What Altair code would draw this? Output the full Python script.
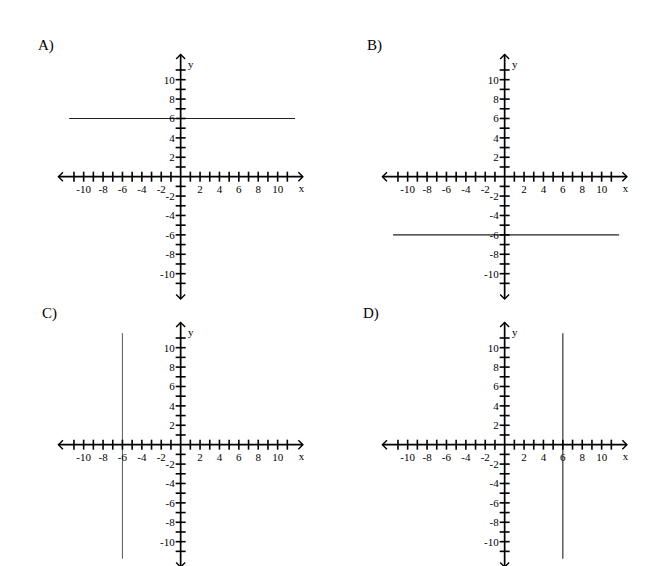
import altair as alt
import pandas as pd

# ---- data ----
PANEL_LABELS = ["A)", "B)", "C)", "D)"]
LINE_ORIENT = ["horizontal", "horizontal", "vertical", "vertical"]
LINE_VALUE = [6, -6, -6, 6]
H_LINE_SPAN = [-11.5, 11.8]      # x extent of the horizontal lines
V_LINE_SPAN = [-11.75, 11.5]     # y extent of the vertical lines
AXIS_SPAN = [-12.6, 12.6]        # arrow tip to arrow tip
TICK_VALUES = [-11, -10, -9, -8, -7, -6, -5, -4, -3, -2, -1,
               1, 2, 3, 4, 5, 6, 7, 8, 9, 10, 11]
LABEL_VALUES = [-10, -8, -6, -4, -2, 2, 4, 6, 8, 10]
LABEL_TEXT = ["-10", "-8", "-6", "-4", "-2", "2", "4", "6", "8", "10"]

# ---- layout / style ----
W, H = 300, 268
X_DOMAIN = [-17.8, 13.13]
Y_DOMAIN = [-10.24, 17.39]
PANEL_LABEL_X = [30, 35, 34, 31]
PANEL_LABEL_Y = 37
LINE_COLORS = ["#222222", "#222222", "#666666", "#222222"]
FONT = "Liberation Serif"
TICK_FONT_SIZE = 11

RIGHT = "M-1,-1L0,0L-1,1"
LEFT = "M1,-1L0,0L1,1"
UP = "M-1,1L0,0L1,1"
DOWN = "M-1,-1L0,0L1,-1"


def panel(i):
    xs = alt.Scale(domain=X_DOMAIN, nice=False, zero=False)
    ys = alt.Scale(domain=Y_DOMAIN, nice=False, zero=False)
    X = alt.X("x:Q", scale=xs, axis=None)
    Y = alt.Y("y:Q", scale=ys, axis=None)

    axes_df = pd.DataFrame({
        "x": [AXIS_SPAN[0], 0], "x2": [AXIS_SPAN[1], 0],
        "y": [0, AXIS_SPAN[0]], "y2": [0, AXIS_SPAN[1]],
    })
    axes = alt.Chart(axes_df).mark_rule(color="black", strokeWidth=1.7).encode(
        x=X, x2="x2:Q", y=Y, y2="y2:Q")

    xt = alt.Chart(pd.DataFrame({"x": TICK_VALUES, "y": [0] * len(TICK_VALUES)})).mark_tick(
        orient="vertical", size=10, thickness=1.6, color="black", opacity=1).encode(x=X, y=Y)
    yt = alt.Chart(pd.DataFrame({"x": [0] * len(TICK_VALUES), "y": TICK_VALUES})).mark_tick(
        orient="horizontal", size=10, thickness=1.6, color="black", opacity=1).encode(x=X, y=Y)

    arrows_df = pd.DataFrame({
        "x": [AXIS_SPAN[1], AXIS_SPAN[0], 0, 0],
        "y": [0, 0, AXIS_SPAN[1], AXIS_SPAN[0]],
        "shape": [RIGHT, LEFT, UP, DOWN],
    })
    arrows = alt.Chart(arrows_df).mark_point(
        filled=False, stroke="black", strokeWidth=1.4, size=81, opacity=1).encode(
        x=X, y=Y, shape=alt.Shape("shape:N", scale=None))

    xl = alt.Chart(pd.DataFrame({"x": LABEL_VALUES, "y": [0] * len(LABEL_VALUES), "t": LABEL_TEXT})).mark_text(
        dy=13, align="center", baseline="middle", font=FONT, fontSize=TICK_FONT_SIZE, color="black").encode(
        x=X, y=Y, text="t:N")
    yl = alt.Chart(pd.DataFrame({"x": [0] * len(LABEL_VALUES), "y": LABEL_VALUES, "t": LABEL_TEXT})).mark_text(
        dx=-6, dy=1, align="right", baseline="middle", font=FONT, fontSize=TICK_FONT_SIZE, color="black").encode(
        x=X, y=Y, text="t:N")

    xname = alt.Chart(pd.DataFrame({"x": [12.45], "y": [0], "t": ["x"]})).mark_text(
        dy=12, align="center", baseline="middle", font=FONT, fontSize=TICK_FONT_SIZE, color="black").encode(
        x=X, y=Y, text="t:N")
    yname = alt.Chart(pd.DataFrame({"x": [0], "y": [11.5], "t": ["y"]})).mark_text(
        dx=10, align="center", baseline="middle", font=FONT, fontSize=TICK_FONT_SIZE, color="black").encode(
        x=X, y=Y, text="t:N")

    if LINE_ORIENT[i] == "horizontal":
        ldf = pd.DataFrame({"x": [H_LINE_SPAN[0]], "x2": [H_LINE_SPAN[1]],
                            "y": [LINE_VALUE[i]], "y2": [LINE_VALUE[i]]})
    else:
        ldf = pd.DataFrame({"x": [LINE_VALUE[i]], "x2": [LINE_VALUE[i]],
                            "y": [V_LINE_SPAN[0]], "y2": [V_LINE_SPAN[1]]})
    graph = alt.Chart(ldf).mark_rule(color=LINE_COLORS[i], strokeWidth=1.1).encode(
        x=X, x2="x2:Q", y=Y, y2="y2:Q")

    title = alt.Chart(pd.DataFrame({"label": [PANEL_LABELS[i]]})).mark_text(
        align="left", baseline="middle", font=FONT, fontSize=15, color="black").encode(
        x=alt.value(PANEL_LABEL_X[i]), y=alt.value(PANEL_LABEL_Y), text="label:N")

    return alt.layer(graph, axes, xt, yt, arrows, xl, yl, xname, yname, title).properties(
        width=W, height=H)


chart = alt.concat(
    panel(0), panel(1), panel(2), panel(3),
    columns=2, spacing={"row": 0, "column": 24}, bounds="flush",
).properties(padding=0, background="white").configure_view(stroke=None)

chart.save("out.html", embed_options={"renderer": "svg", "actions": False})
